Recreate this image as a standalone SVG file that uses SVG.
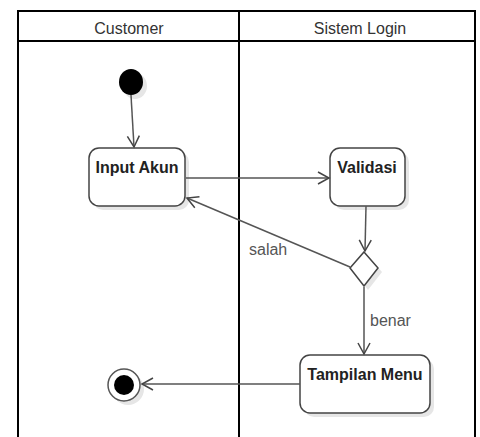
<svg xmlns="http://www.w3.org/2000/svg" width="480" height="437" viewBox="0 0 480 437">
<style>
.lane{fill:none;stroke:#000;stroke-width:2}
.hdr{font-family:"Liberation Sans",Arial,sans-serif;font-size:16px;fill:#333;text-anchor:middle}
.act{fill:#fff;stroke:#444;stroke-width:1.5}
.shadow{fill:#e6e6e6}
.lbl{font-family:"Liberation Sans",Arial,sans-serif;font-size:16px;font-weight:bold;fill:#222;text-anchor:middle}
.edge{fill:none;stroke:#555;stroke-width:1.5}
.elbl{font-family:"Liberation Sans",Arial,sans-serif;font-size:16px;fill:#555}
</style>
<defs>
<marker id="open" markerWidth="14" markerHeight="14" refX="12" refY="7" orient="auto" markerUnits="userSpaceOnUse">
<path d="M1,1 L12,7 L1,13" fill="none" stroke="#444" stroke-width="1.5"/>
</marker>
</defs>
<rect width="480" height="437" fill="#fff"/>
<g id="swimlanes">
<rect class="lane" x="18" y="11" width="457" height="440"/>
<line class="lane" x1="18" y1="41" x2="475" y2="41"/>
<line class="lane" x1="239" y1="11" x2="239" y2="437"/>
<text class="hdr" x="129" y="34">Customer</text>
<text class="hdr" x="360" y="34">Sistem Login</text>
</g>
<g id="start">
<ellipse class="shadow" cx="135" cy="86" rx="12" ry="13"/>
<ellipse cx="131" cy="82" rx="12" ry="13" fill="#000"/>
</g>
<g id="input-akun">
<rect class="shadow" x="93" y="152" width="96" height="58" rx="10"/>
<rect class="act" x="89" y="148" width="96" height="58" rx="10"/>
<text class="lbl" x="137" y="173">Input Akun</text>
</g>
<g id="validasi">
<rect class="shadow" x="334" y="152" width="75" height="58" rx="10"/>
<rect class="act" x="330" y="148" width="75" height="58" rx="10"/>
<text class="lbl" x="367" y="173">Validasi</text>
</g>
<g id="decision">
<polygon class="shadow" points="368,256 382,272 368,290 354,272"/>
<polygon class="act" points="364,252 378,268 364,286 350,268"/>
</g>
<g id="tampilan-menu">
<rect class="shadow" x="304" y="359" width="130" height="58" rx="10"/>
<rect class="act" x="300" y="355" width="130" height="58" rx="10"/>
<text class="lbl" x="365" y="380">Tampilan Menu</text>
</g>
<g id="end">
<circle class="shadow" cx="128" cy="389" r="16"/>
<circle cx="124" cy="385" r="16" fill="#fff" stroke="#555" stroke-width="1.5"/>
<circle cx="124" cy="385" r="10" fill="#000"/>
</g>
<g id="connectors">
<line class="edge" x1="131" y1="95" x2="134" y2="147" marker-end="url(#open)"/>
<line class="edge" x1="186" y1="178" x2="329" y2="178" marker-end="url(#open)"/>
<line class="edge" x1="366" y1="206" x2="365" y2="251" marker-end="url(#open)"/>
<line class="edge" x1="350" y1="267" x2="187" y2="198" marker-end="url(#open)"/>
<line class="edge" x1="364" y1="287" x2="364" y2="354" marker-end="url(#open)"/>
<line class="edge" x1="300" y1="384" x2="142" y2="384" marker-end="url(#open)"/>
<text class="elbl" x="249" y="255">salah</text>
<text class="elbl" x="370" y="326">benar</text>
</g>
</svg>
